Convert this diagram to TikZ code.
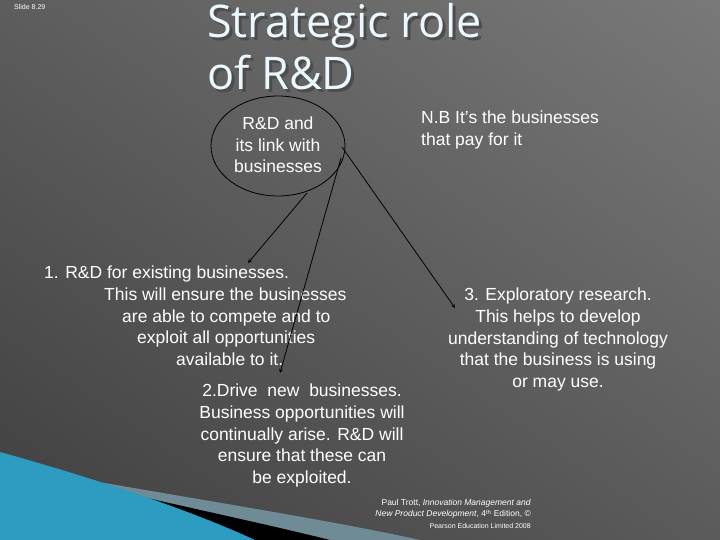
\documentclass[tikz,border=0pt]{standalone}
\usepackage{fontspec}
\setmainfont{Liberation Sans}
\newfontfamily\titlefont{Open Sans}
\begin{document}
\begin{tikzpicture}[x=1pt,y=-1pt,
  body/.style={text=white,font=\fontsize{17.5}{21.6}\selectfont,inner sep=0pt},
  arr/.style={draw=black,thick,-stealth}]
\useasboundingbox (0,0) rectangle (720,540);
\definecolor{bgl}{HTML}{7E7E7E}
\definecolor{bgd}{HTML}{3A3A3A}
\definecolor{sky}{HTML}{2E9CC0}
\definecolor{steel}{HTML}{6F8C96}
\fill[bgd!50!bgl] (0,0) rectangle (720,540);
\begin{scope}
\clip (0,0) rectangle (720,540);
\shade[top color=bgl,bottom color=bgd,shading angle=-35] (-200,-200) rectangle (920,740);
\end{scope}
% swoosh
\fill[steel] (30,470) .. controls (200,500) and (330,520) .. (420,540) -- (150,540) -- cycle;
\fill[black] (20,468) .. controls (150,500) and (250,520) .. (330,540) -- (200,540) -- cycle;
\fill[sky] (0,452) .. controls (100,480) and (190,510) .. (255,540) -- (0,540) -- cycle;
\node[anchor=north west,text=white,font=\fontsize{7}{8}\selectfont,inner sep=0pt] (slide) at (14,4) {Slide 8.29};
\node[anchor=north west,text=black!70,font=\titlefont\fontsize{45}{52}\selectfont,align=left,inner sep=0pt] (shadow) at (210,6) {Strategic role\\of R\&D};
\node[anchor=north west,text=cyan!8,font=\titlefont\fontsize{45}{52}\selectfont,align=left,inner sep=0pt] (title) at (207,3) {Strategic role\\of R\&D};
\draw[thick] (278,146) ellipse (67 and 50);
\node[body,align=center] (c) at (278,145) {R\&D and\\its link with\\businesses};
\node[body,anchor=north west,align=left] (nb) at (421,111) {N.B It’s the businesses\\that pay for it};
\node[body,anchor=north west,align=left] (one) at (44,266) {1. R\&D for existing businesses.\\\hspace*{60pt}This will ensure the businesses\\\hspace*{78pt}are able to compete and to\\\hspace*{93pt}exploit all opportunities\\\hspace*{132pt}available to it.};
\node[body,align=center,anchor=north] (two) at (302,384) {2.Drive\ \ new\ \ businesses.\\Business opportunities will\\continually arise. R\&D will\\ensure that these can\\be exploited.};
\node[body,align=center,anchor=north] (three) at (558,288) {3. Exploratory research.\\This helps to develop\\understanding of technology\\that the business is using\\or may use.};
\coordinate (o1) at (307,193);
\coordinate (o2) at (341,158);
\coordinate (o3) at (342,147);
\coordinate (e1) at (248,263);
\coordinate (e2) at (280,373);
\coordinate (e3) at (455,308);
\draw[arr] (o1) -- (e1);
\draw[arr] (o2) -- (e2);
\draw[arr] (o3) -- (e3);
\node[anchor=north east,text=white,align=right,inner sep=0pt,font=\fontsize{8.5}{11.5}\selectfont] (ref) at (531,499) {Paul Trott, \textit{Innovation Management and}\\\textit{New Product Development}, 4\textsuperscript{th} Edition, ©\\{\fontsize{7}{8}\selectfont Pearson Education Limited 2008}};
\end{tikzpicture}
\end{document}
